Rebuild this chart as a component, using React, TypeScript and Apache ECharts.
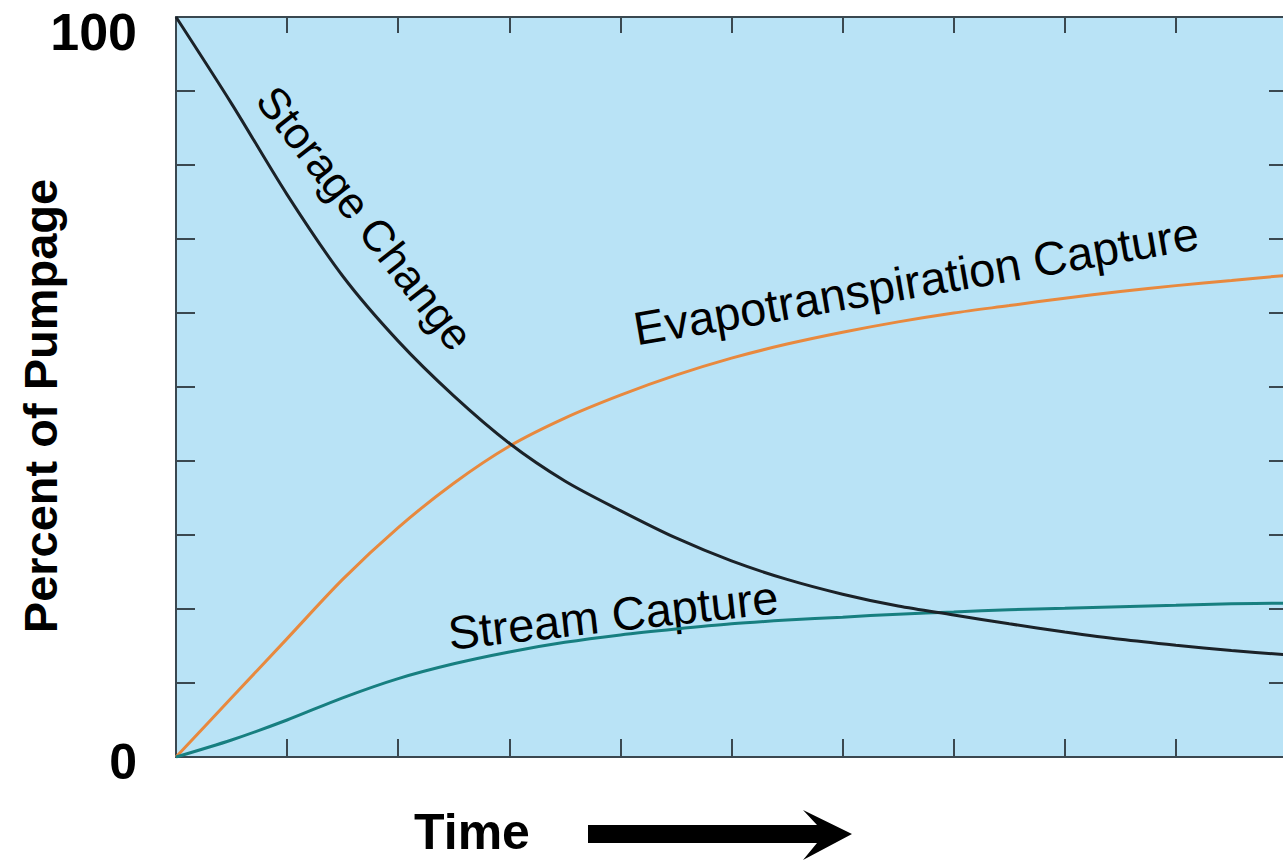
import React, { useEffect, useRef } from "react";
import * as echarts from "echarts";

const timeSteps = [0, 0.5, 1, 1.5, 2, 2.5, 3, 3.5, 4, 4.5, 5, 5.5, 6, 6.5, 7, 7.5, 8, 8.5, 9, 9.5, 10];
const storageChange = [100, 88.3, 76.0, 65.0, 56.2, 48.8, 42.4, 37.3, 33.3, 29.6, 26.5, 24.0, 22.0, 20.4, 19.2, 18.0, 16.9, 15.9, 15.1, 14.4, 13.8];
const etCapture = [0, 8.0, 16.0, 24.0, 31.0, 37.0, 42.0, 45.8, 48.9, 51.6, 53.9, 55.8, 57.4, 58.8, 60.0, 61.0, 62.0, 62.9, 63.7, 64.4, 65.1];
const streamCapture = [0, 2.3, 5.0, 8.0, 10.6, 12.6, 14.2, 15.5, 16.5, 17.3, 18.0, 18.5, 18.9, 19.3, 19.6, 19.9, 20.1, 20.3, 20.5, 20.7, 20.8];
const yTickLabels: Record<number, string> = { 0: "0", 100: "100" };

const FONT = "'Liberation Sans', Arial, sans-serif";
const AXIS = "#3a4850";
const BG = "#b9e3f6";

function pairs(ys: number[]) {
  return timeSteps.map((t, i) => [t, ys[i]]);
}

export default function App() {
  const ref = useRef<HTMLDivElement>(null);
  useEffect(() => {
    if (!ref.current) return;
    const chart = echarts.init(ref.current, null, { renderer: "svg" });
    const tick = (len: number) => ({ show: true, inside: true, length: len, lineStyle: { color: AXIS, width: 2 } });
    const line = { show: true, onZero: false, lineStyle: { color: AXIS, width: 2 } };
    chart.setOption({
      animation: false,
      textStyle: { fontFamily: FONT },
      grid: { left: 176, right: 3, top: 17, bottom: 105, show: true, backgroundColor: BG, borderWidth: 0 },
      xAxis: [
        { type: "value", min: 0, max: 10, interval: 1, position: "bottom", axisLine: line, axisTick: tick(18), axisLabel: { show: false }, splitLine: { show: false } },
        { type: "value", min: 0, max: 10, interval: 1, position: "top", axisLine: line, axisTick: tick(16), axisLabel: { show: false }, splitLine: { show: false } },
      ],
      yAxis: [
        {
          type: "value", min: 0, max: 100, interval: 10, position: "left",
          axisLine: line, axisTick: tick(19), splitLine: { show: false },
          axisLabel: {
            show: true, margin: 39,
            formatter: (v: number) => (v === 100 ? "{a|" + yTickLabels[100] + "}" : v === 0 ? "{b|" + yTickLabels[0] + "}" : ""),
            rich: {
              a: { fontSize: 52, fontWeight: "bold", color: "#000", fontFamily: FONT, padding: [30, 0, 0, 0] },
              b: { fontSize: 50, fontWeight: "bold", color: "#000", fontFamily: FONT, padding: [10, 0, 0, 0] },
            },
          },
        },
        { type: "value", min: 0, max: 100, interval: 10, position: "right", axisLine: line, axisTick: tick(18), axisLabel: { show: false }, splitLine: { show: false } },
      ],
      series: [
        { name: "Storage Change", type: "line", data: pairs(storageChange), smooth: 0.3, symbol: "none", lineStyle: { color: "#1b2228", width: 3 }, z: 3 },
        { name: "Evapotranspiration Capture", type: "line", data: pairs(etCapture), smooth: 0.3, symbol: "none", lineStyle: { color: "#e8893e", width: 3 }, z: 2 },
        { name: "Stream Capture", type: "line", data: pairs(streamCapture), smooth: 0.3, symbol: "none", lineStyle: { color: "#177f80", width: 3 }, z: 2 },
      ],
      graphic: [
        {
          type: "text", x: 40, y: 406, rotation: Math.PI / 2,
          style: { text: "Percent of Pumpage", font: `bold 47px ${FONT}`, fill: "#000", align: "center", verticalAlign: "middle" },
        },
        {
          type: "text", x: 472, y: 832,
          style: { text: "Time", font: `bold 50px ${FONT}`, fill: "#000", align: "center", verticalAlign: "middle" },
        },
        {
          type: "polygon",
          shape: { points: [[588, 825], [817, 825], [803, 810], [852, 834], [803, 860], [817, 843], [588, 843]] },
          style: { fill: "#000" },
        },
        {
          type: "text", x: 365, y: 218, rotation: -52 * Math.PI / 180,
          style: { text: "Storage Change", font: `44px ${FONT}`, fill: "#000", align: "center", verticalAlign: "middle" },
        },
        {
          type: "text", x: 916, y: 281, rotation: 9.75 * Math.PI / 180,
          style: { text: "Evapotranspiration Capture", font: `47px ${FONT}`, fill: "#000", align: "center", verticalAlign: "middle" },
        },
        {
          type: "text", x: 613, y: 615, rotation: 6.3 * Math.PI / 180,
          style: { text: "Stream Capture", font: `47px ${FONT}`, fill: "#000", align: "center", verticalAlign: "middle" },
        },
      ],
    });
    return () => chart.dispose();
  }, []);
  return (
    <div style={{ position: "absolute", left: 0, top: 0, width: 1283, height: 862, overflow: "hidden", background: "#fff" }}>
      <div ref={ref} style={{ width: 1290, height: 862 }} />
    </div>
  );
}
